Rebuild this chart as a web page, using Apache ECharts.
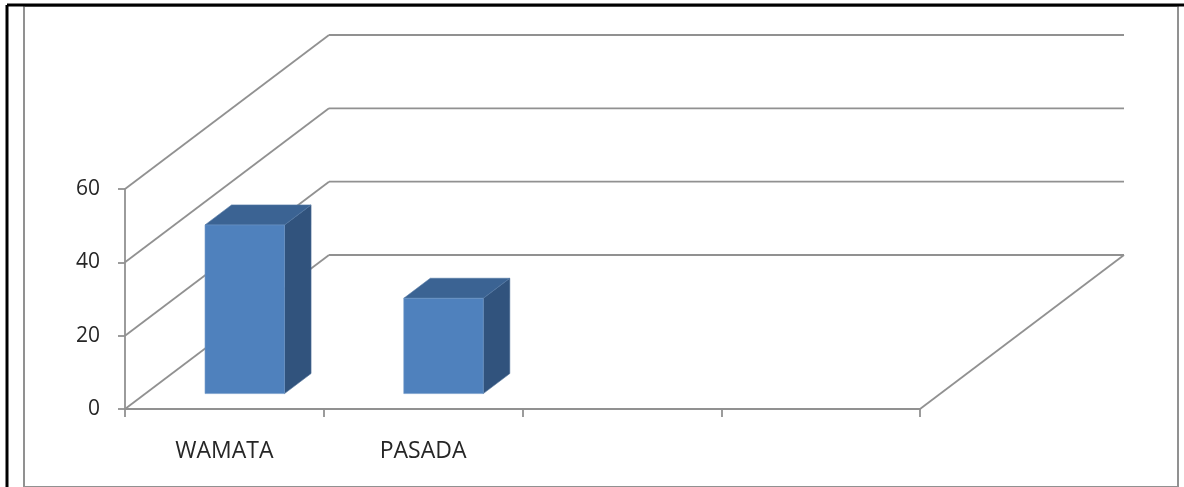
<!DOCTYPE html>
<html>
<head>
<meta charset="utf-8">
<script src="https://cdn.jsdelivr.net/npm/echarts@6/dist/echarts.min.js"></script>
<style>
html,body{margin:0;padding:0;background:#fff;}
#chart{width:1184px;height:487px;}
</style>
</head>
<body>
<div id="chart"></div>
<script>
// ---- data ----
var categories = ['WAMATA', 'PASADA', '', ''];
var values = [46, 26];
var yTicks = [0, 20, 40, 60];

// ---- style ----
var GRAY = '#919191';
var LW = 1.8;
var DEPTH_X = 204, DEPTH_Y = -154;   // oblique projection of the chart's depth
var BAR_D0 = 0.10, BAR_D1 = 0.13;    // bar's position/thickness in depth (fractions)
var BAR_W = 0.40;                    // bar width as fraction of category

var chart = echarts.init(document.getElementById('chart'));

var wallData = yTicks.map(function (v) { return [0, v]; });
var barData = values.map(function (v, i) { return [i, v]; });

chart.setOption({
  animation: false,
  backgroundColor: '#fff',
  graphic: [
    { type: 'rect', z: -10, shape: { x: 24, y: 6, width: 1154, height: 481 },
      style: { fill: 'none', stroke: GRAY, lineWidth: 2 } },
    { type: 'line', z: 10, shape: { x1: 7, y1: 5, x2: 1184, y2: 5 },
      style: { stroke: '#000', lineWidth: 3 } },
    { type: 'line', z: 10, shape: { x1: 7, y1: 5, x2: 7, y2: 487 },
      style: { stroke: '#000', lineWidth: 3 } }
  ],
  grid: { left: 125, top: 189, right: 264, bottom: 78 },
  xAxis: {
    type: 'category',
    data: categories,
    axisLine: { show: true, lineStyle: { color: GRAY, width: LW } },
    axisTick: { show: true, length: 8, interval: 0, lineStyle: { color: GRAY, width: LW } },
    axisLabel: { interval: 0, margin: 31, color: '#262626', fontSize: 23, fontFamily: 'Open Sans' },
    splitLine: { show: false }
  },
  yAxis: {
    type: 'value',
    min: 0, max: 60, interval: 20,
    axisLine: { show: true, lineStyle: { color: GRAY, width: LW } },
    axisTick: { show: true, length: 7, lineStyle: { color: GRAY, width: LW } },
    axisLabel: { margin: 25, color: '#262626', fontSize: 21, fontFamily: 'Open Sans' },
    splitLine: { show: false }
  },
  series: [
    {
      type: 'custom',
      z: 1,
      data: wallData,
      renderItem: function (params, api) {
        var cs = params.coordSys;
        var x0 = cs.x, x1 = cs.x + cs.width;
        var y = api.coord([0, api.value(1)])[1];
        var ls = { stroke: GRAY, lineWidth: LW, fill: null };
        var children = [
          { type: 'line', shape: { x1: x0 + DEPTH_X, y1: y + DEPTH_Y, x2: x1 + DEPTH_X, y2: y + DEPTH_Y }, style: ls },
          { type: 'line', shape: { x1: x0, y1: y, x2: x0 + DEPTH_X, y2: y + DEPTH_Y }, style: ls }
        ];
        if (api.value(1) === 0) {
          children.push({ type: 'line', shape: { x1: x1, y1: y, x2: x1 + DEPTH_X, y2: y + DEPTH_Y }, style: ls });
        }
        return { type: 'group', children: children };
      }
    },
    {
      type: 'custom',
      z: 5,
      data: barData,
      renderItem: function (params, api) {
        var idx = api.value(0), val = api.value(1);
        var base = api.coord([idx, 0]);
        var top = api.coord([idx, val]);
        var catW = api.size([1, 0])[0];
        var w = catW * BAR_W;
        var ox = DEPTH_X * BAR_D0, oy = DEPTH_Y * BAR_D0;
        var bx = DEPTH_X * BAR_D1, by = DEPTH_Y * BAR_D1;
        var xl = base[0] + ox - w / 2, xr = base[0] + ox + w / 2;
        var yb = base[1] + oy, yt = top[1] + oy;
        return {
          type: 'group',
          children: [
            { type: 'polygon', shape: { points: [[xr, yt], [xr + bx, yt + by], [xr + bx, yb + by], [xr, yb]] },
              style: { fill: '#31537d', stroke: '#4a6b94', lineWidth: 0.6 } },
            { type: 'polygon', shape: { points: [[xl, yt], [xr, yt], [xr + bx, yt + by], [xl + bx, yt + by]] },
              style: { fill: '#3b6393', stroke: '#5478a4', lineWidth: 0.6 } },
            { type: 'rect', shape: { x: xl, y: yt, width: w, height: yb - yt },
              style: { fill: '#4f81bd', stroke: '#6f97c8', lineWidth: 0.6 } }
          ]
        };
      }
    }
  ]
});
</script>
</body>
</html>
